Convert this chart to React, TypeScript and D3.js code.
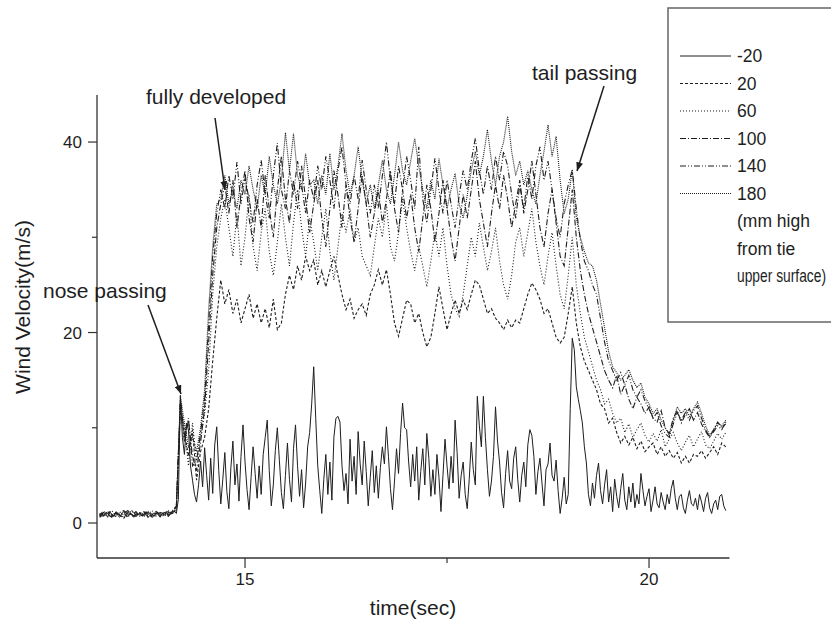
import React from 'react';
import * as d3 from 'd3';

// sampling grids of the recorded signals (s)
const T0 = 13.2;
const DT = 0.05;          // upper probes
const T0_LOW = 13.2;
const DT_LOW = 0.025;     // -20 mm probe (finer record)

const seriesLabels = ['-20', '20', '60', '100', '140', '180'];
const noteLines = ['(mm high', 'from tie', 'upper surface)'];

const s_m20 = [0.8,1.1,0.7,1.0,0.6,1.2,0.9,0.7,1.1,0.8,
0.6,1.0,1.2,0.8,0.7,1.1,0.9,0.6,1.0,0.8,
1.1,0.7,0.9,1.2,0.6,0.8,1.0,0.7,1.1,0.9,
0.6,1.0,0.8,1.2,0.7,0.9,1.1,1.3,1.0,2.5,
13.4,9.0,7.2,10.5,9.8,6.0,4.5,3.0,2.2,4.0,
6.5,3.8,7.9,5.0,2.4,6.8,3.1,8.2,10.1,5.5,
2.0,4.6,7.4,3.3,1.5,5.8,8.6,4.0,6.2,2.3,
7.0,10.3,6.4,3.5,1.4,4.8,8.0,5.2,2.6,6.0,
3.0,7.2,9.0,10.8,5.5,1.8,4.0,7.6,10.0,6.6,
3.2,1.5,5.0,8.4,4.6,2.2,7.8,10.3,6.0,2.8,
5.6,1.6,4.2,8.0,9.5,12.5,16.4,11.0,6.0,3.4,
1.0,4.6,7.2,3.0,6.4,2.4,9.0,11.0,11.2,10.6,
6.0,3.4,5.2,2.0,8.8,4.4,7.0,3.0,9.6,6.2,
4.0,8.6,5.4,1.8,4.8,7.6,3.2,6.0,2.6,5.8,
8.0,6.2,10.1,7.0,3.6,1.4,4.4,7.8,5.2,9.4,
12.6,10.0,9.8,6.4,3.8,7.2,4.4,8.0,2.4,5.4,
7.8,4.0,9.4,6.8,2.8,5.6,3.0,7.2,4.8,1.2,
5.0,8.8,6.0,3.6,7.0,4.2,10.8,7.4,2.6,5.0,
6.4,3.0,1.5,4.6,8.5,5.6,4.0,13.3,10.2,8.0,
13.3,9.0,5.6,2.8,4.4,7.0,12.2,8.6,6.4,3.2,
1.6,5.2,7.6,4.4,3.6,6.8,8.0,4.6,2.2,5.0,
6.4,3.8,8.2,9.8,9.2,7.0,3.0,5.4,6.8,4.2,
1.8,5.6,6.2,8.4,5.0,4.4,6.6,3.4,1.0,2.6,
4.8,2.0,3.0,12.0,19.4,18.2,14.3,13.0,11.8,10.5,
8.0,6.3,3.0,1.8,4.2,2.6,5.0,6.3,3.4,2.0,
4.0,5.6,2.2,3.8,1.2,4.6,2.8,1.6,3.6,5.2,
2.4,1.4,3.8,2.2,4.2,1.6,3.0,2.0,5.2,3.4,
1.8,2.8,3.6,1.2,2.4,3.8,2.0,1.6,3.2,2.2,
1.4,3.0,2.0,3.6,4.5,2.6,1.4,2.8,3.0,1.6,
1.0,2.4,3.4,2.0,1.8,2.6,1.4,3.0,2.2,1.2,
2.6,3.2,1.6,1.0,2.0,2.4,1.4,2.8,3.0,1.8,
1.3];

const s_20 = [0.6,0.9,1.2,0.7,1.0,0.8,0.5,1.1,0.9,0.7,1.0,1.2,0.6,0.8,1.0,0.7,1.1,0.9,1.2,1.8,
12.0,9.5,7.0,9.8,4.5,7.5,9.0,12.0,17.0,21.5,
25.5,23.0,24.5,22.0,23.5,21.0,22.5,24.0,21.5,23.0,
21.0,22.5,20.5,23.5,20.3,21.0,24.0,26.0,24.5,27.0,
25.5,28.0,26.5,27.6,25.0,26.5,24.8,26.5,28.0,26.0,
24.0,22.4,23.5,21.5,22.4,23.0,21.8,24.0,25.0,26.6,
25.0,26.6,24.0,21.0,19.6,21.5,23.4,23.0,21.0,22.0,
20.0,18.5,19.5,22.0,24.8,22.5,20.3,22.0,23.4,22.0,
23.4,22.4,24.0,25.5,25.0,23.5,22.0,22.5,21.5,21.0,
20.3,21.3,20.5,21.3,21.0,22.5,24.0,25.2,24.5,23.5,
22.0,22.5,21.0,19.5,18.9,19.5,22.0,24.8,21.0,18.5,
17.0,16.0,15.0,14.0,12.5,12.0,10.5,11.0,9.5,8.4,
9.1,8.2,9.0,7.8,8.6,7.5,8.0,8.4,7.2,8.0,
7.0,7.6,6.8,7.4,6.3,7.0,6.3,7.2,7.0,7.6,
6.8,7.4,8.0,7.2,8.4,8.0];

const s_60 = [0.9,0.7,1.0,1.3,0.8,1.1,0.9,0.6,1.2,1.0,0.8,1.1,0.9,1.3,0.7,1.0,0.8,1.2,1.0,1.5,
12.5,10.0,6.0,10.5,6.5,9.0,11.5,16.0,24.0,29.0,
32.0,34.0,31.0,28.0,32.5,27.0,30.0,34.5,29.0,26.5,
30.5,33.0,28.5,26.0,29.5,33.5,30.0,27.0,31.5,35.0,
31.0,28.0,32.0,29.5,26.5,30.0,33.0,28.5,25.5,29.0,
32.5,30.5,33.0,29.5,31.0,28.0,27.0,26.0,29.0,32.0,
30.0,33.5,29.0,27.5,30.5,34.0,31.0,28.5,26.5,29.0,
27.0,24.8,27.5,30.5,28.0,31.0,27.0,24.0,22.5,21.7,
24.0,27.0,30.0,28.0,31.5,29.0,26.5,28.5,31.0,27.5,
25.0,23.5,26.0,29.5,31.0,28.0,30.5,33.0,29.5,27.0,
25.0,28.0,30.5,27.0,24.0,22.5,26.0,30.0,25.0,22.0,
19.5,18.0,16.5,15.0,14.0,12.5,13.0,11.5,10.5,11.0,
9.5,10.4,9.0,9.8,10.5,9.2,8.5,9.4,8.6,9.8,
8.0,8.8,9.5,8.4,7.6,8.5,9.2,8.0,8.8,9.6,
8.2,7.8,8.6,9.4,8.8,9.5];

const s_100 = [0.7,1.1,0.9,0.6,1.2,0.8,1.0,1.3,0.7,0.9,1.1,0.8,1.2,0.6,0.9,1.1,1.0,0.7,1.3,1.7,
12.8,8.5,10.8,7.0,5.5,8.5,12.0,19.0,26.0,31.0,
33.5,35.5,32.5,36.0,31.0,34.5,37.0,32.0,29.5,34.0,
31.0,36.5,33.0,30.0,35.0,38.5,34.0,31.5,36.0,33.0,
37.5,34.0,30.5,33.5,36.0,32.0,29.0,33.0,37.0,34.5,
31.0,35.5,32.0,29.5,33.0,36.5,33.5,30.0,32.5,35.0,
31.5,34.0,37.0,33.0,30.5,35.0,32.0,34.5,31.0,28.5,
32.0,35.5,33.0,29.5,32.5,36.0,33.0,30.0,27.5,31.0,
34.5,32.0,35.0,38.0,34.0,31.5,29.0,32.5,35.5,33.0,
36.5,34.0,31.0,33.5,36.0,32.5,35.0,38.0,34.5,31.0,
29.0,32.5,35.0,31.5,28.0,27.0,31.0,35.0,
30.0,26.5,24.0,22.0,20.5,19.0,17.5,16.0,15.0,14.2,15.5,13.5,14.5,13.0,12.0,13.2,12.5,11.5,12.2,11.0,
10.6,11.8,10.0,9.4,11.0,11.8,10.5,11.4,12.0,10.8,11.6,10.4,9.6,9.0,9.8,10.6,10.0,10.4];

const s_140 = [1.0,0.8,1.2,0.9,0.7,1.1,1.3,0.9,0.8,1.2,0.7,1.0,1.1,0.8,1.2,0.9,0.7,1.1,1.0,1.4,
13.0,9.0,11.0,6.0,6.5,9.5,13.0,21.0,28.0,32.5,
35.0,33.0,36.5,34.0,37.9,33.5,36.2,34.0,31.5,35.5,
38.1,34.5,32.0,36.5,39.9,35.0,33.0,37.0,34.5,38.0,
35.5,32.5,36.0,34.0,37.5,35.0,38.5,36.0,33.0,37.0,
39.5,35.5,33.5,36.5,34.0,38.1,35.0,32.5,35.5,33.0,
36.5,40.0,36.0,33.5,37.5,35.0,38.5,36.0,33.0,39.5,
34.0,31.5,35.0,38.3,35.0,32.5,36.0,33.5,31.0,34.4,
37.0,35.0,38.0,40.4,37.0,34.5,37.5,35.0,38.5,36.0,
39.0,37.5,34.5,32.0,35.5,33.0,36.5,34.0,37.5,39.5,
36.0,38.0,35.0,32.0,30.0,33.5,35.5,37.1,
33.0,29.7,27.5,26.5,25.0,24.0,21.5,19.0,17.0,16.0,15.0,15.8,14.5,15.5,14.0,13.2,14.0,12.8,12.0,11.0,
11.6,10.2,9.4,9.0,10.4,11.6,10.8,11.6,10.8,11.8,12.3,11.0,9.8,9.0,9.6,10.2,9.8,10.6];

const s_180 = [0.8,1.2,1.0,0.7,1.1,0.9,0.6,1.0,1.3,0.8,1.0,0.7,1.1,0.9,1.2,0.8,1.0,1.3,0.9,1.6,
13.3,10.5,8.0,9.0,7.5,10.0,14.0,22.5,29.0,33.5,
34.0,36.5,33.5,35.0,33.0,36.0,34.5,37.5,35.0,33.0,
36.5,34.5,38.5,35.5,33.5,36.0,41.0,37.0,40.9,36.5,
35.0,38.8,35.5,36.0,33.5,36.5,34.5,38.8,35.0,37.5,
40.9,37.0,34.5,36.5,39.5,36.0,33.5,35.5,33.0,35.5,
38.1,35.0,33.5,36.5,40.0,37.0,35.5,38.0,40.4,37.5,
35.0,33.0,36.0,34.0,38.3,35.5,33.0,35.0,36.7,33.5,
32.0,34.4,37.0,39.0,36.5,38.5,41.3,38.0,35.5,38.5,
40.0,42.7,39.0,36.5,38.0,35.5,37.0,35.0,33.5,36.5,
39.0,41.8,38.5,40.6,36.0,32.5,34.0,37.1,
32.0,30.0,28.5,27.3,27.0,25.5,23.0,20.5,18.0,16.4,15.8,15.0,15.5,16.1,15.0,14.2,14.7,13.2,12.5,11.5,
12.0,10.8,10.0,9.2,10.8,12.2,11.5,12.0,11.2,12.0,12.7,11.5,10.2,9.2,9.8,10.5,10.2,10.8];

const yMajorTicks = [0, 20, 40];
const yMinorTicks = [10, 30];
const xMajorTicks = [15, 20];
const xMinorTicks = [17.5];

const seriesData = [s_m20, s_20, s_60, s_100, s_140, s_180];
const dashStyles = ['none', '3,2', '1,2', '6,2,1,2', '6,2,1,2,1,2', '1,1'];

const FONT = '"Liberation Sans", Arial, Helvetica, sans-serif';
const INK = '#1e1e1e';

export default function App() {
  const W = 831, H = 631;
  const x = d3.scaleLinear().domain([13.168, 20.996]).range([97, 729.5]);
  const y = d3.scaleLinear().domain([-3.675, 44.94]).range([558, 95]);
  const lineFor = (t0: number, dt: number) => d3.line<number>()
    .x((_, i) => x(t0 + dt * i))
    .y((d) => y(d));
  const lineUpper = lineFor(T0, DT);
  const lineLow = lineFor(T0_LOW, DT_LOW);

  const drawOrder = [5, 4, 3, 2, 1, 0];

  const legendX0 = 680, legendX1 = 731, legendTextX = 737;
  const rowY = (k: number) => 56 + k * 27.5;
  const noteFit = [0, 0, 89];

  return (
    <svg width={W} height={H} style={{ position: 'absolute', left: 0, top: 0, background: '#fff' }}
      fontFamily={FONT}>
      <defs>
        <marker id="ah" viewBox="0 0 10 8" refX="10" refY="4" markerWidth="9" markerHeight="7"
          markerUnits="userSpaceOnUse" orient="auto">
          <path d="M0,0 L10,4 L0,8 z" fill={INK} />
        </marker>
      </defs>
      <rect x={0} y={0} width={W} height={H} fill="#fff" />

      {/* series */}
      {drawOrder.map((k) => (
        <path key={k} d={(k === 0 ? lineLow(seriesData[k]) : lineUpper(seriesData[k])) || ''}
          fill="none" stroke={INK}
          strokeWidth={k === 0 ? 1 : 1.1} strokeDasharray={dashStyles[k]} />
      ))}

      {/* axes */}
      <line x1={97} x2={97} y1={95} y2={558} stroke="#333" strokeWidth={1.3} />
      <line x1={97} x2={729.5} y1={558} y2={558} stroke="#333" strokeWidth={1.3} />
      {yMajorTicks.map((v) => (
        <g key={'ym' + v}>
          <line x1={88} x2={97} y1={y(v)} y2={y(v)} stroke="#333" strokeWidth={1.2} />
          <text x={82} y={y(v) + 6} textAnchor="end" fontSize={17} fill={INK}>{v}</text>
        </g>
      ))}
      {yMinorTicks.map((v) => (
        <line key={'yn' + v} x1={92} x2={97} y1={y(v)} y2={y(v)} stroke="#333" strokeWidth={1.2} />
      ))}
      {xMajorTicks.map((v) => (
        <g key={'xm' + v}>
          <line x1={x(v)} x2={x(v)} y1={558} y2={568} stroke="#333" strokeWidth={1.2} />
          <text x={x(v)} y={585} textAnchor="middle" fontSize={17} fill={INK}>{v}</text>
        </g>
      ))}
      {xMinorTicks.map((v) => (
        <line key={'xn' + v} x1={x(v)} x2={x(v)} y1={558} y2={563} stroke="#333" strokeWidth={1.2} />
      ))}
      <text x={413} y={615} textAnchor="middle" fontSize={21} fill={INK}>time(sec)</text>
      <text transform="translate(30,307) rotate(-90)" textAnchor="middle" fontSize={21} fill={INK}>Wind Velocity(m/s)</text>

      {/* annotations */}
      <text x={43} y={298} fontSize={21} fill={INK}>nose passing</text>
      <line x1={148} y1={305} x2={181} y2={394} stroke={INK} strokeWidth={1.5} markerEnd="url(#ah)" />
      <text x={146} y={104} fontSize={21} fill={INK}>fully developed</text>
      <line x1={215} y1={118} x2={225} y2={190} stroke={INK} strokeWidth={1.5} markerEnd="url(#ah)" />
      <text x={532} y={80} fontSize={21} fill={INK}>tail passing</text>
      <line x1={604} y1={86} x2={577} y2={171} stroke={INK} strokeWidth={1.5} markerEnd="url(#ah)" />

      {/* legend */}
      <rect x={668} y={8} width={200} height={314} fill="#fff" stroke="#666" strokeWidth={1.5} />
      {seriesLabels.map((lab, k) => (
        <g key={lab}>
          <line x1={legendX0} x2={legendX1} y1={rowY(k)} y2={rowY(k)} stroke={INK}
            strokeWidth={1} strokeDasharray={dashStyles[k]} />
          <text x={legendTextX} y={rowY(k) + 6} fontSize={17.5} fill={INK}>{lab}</text>
        </g>
      ))}
      {noteLines.map((t, j) => (
        <text key={t} x={legendTextX} y={rowY(6 + j) + 6} fontSize={17.5} fill={INK}
          {...(noteFit[j] ? { textLength: noteFit[j], lengthAdjust: 'spacingAndGlyphs' } : {})}>{t}</text>
      ))}
    </svg>
  );
}
